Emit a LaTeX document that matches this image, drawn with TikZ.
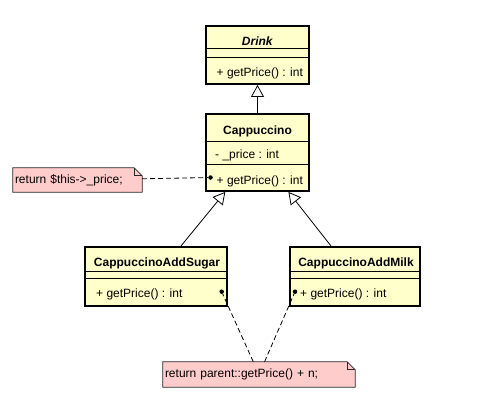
\documentclass[tikz,border=0pt]{standalone}
\usepackage{fontspec}
\setmainfont{Liberation Sans}
\usetikzlibrary{arrows.meta,positioning,calc,backgrounds}
\definecolor{classfill}{RGB}{255,255,204}
\definecolor{notefill}{RGB}{255,204,204}
\tikzset{
    classbox/.style={draw,line width=1.8pt,fill=classfill,inner sep=0pt},
    sepline/.style={line width=1pt},
    notebox/.style={inner xsep=2pt,inner ysep=0pt,align=left},
    noteline/.style={draw=black!85,fill=notefill,line width=0.8pt},
    pindot/.style={circle,fill,inner sep=0pt,minimum size=4.5pt},
    inherit/.style={-{Triangle[open,length=12pt,width=13pt]},line width=0.8pt},
    notelink/.style={dash pattern=on 5pt off 3pt,line width=0.8pt}
}

\begin{document}
\begin{tikzpicture}[x=1pt,y=-1pt,every node/.style={font=\fontsize{12}{14}\selectfont}]
    \useasboundingbox (0,0) rectangle (478,416);
    % classes
    \node[classbox,minimum width=103,minimum height=58] (drink) at (257.5,55) {};
    \node[classbox,minimum width=103,minimum height=77] (cap) at (257.5,152.5) {};
    \node[classbox,minimum width=142,minimum height=59] (sugar) at (156,276.5) {};
    \node[classbox,minimum width=130,minimum height=59] (milk) at (355,276.5) {};
    \draw[sepline] ([yshift=-23pt]drink.north west) -- ([yshift=-23pt]drink.north east);
    \draw[sepline] ([yshift=-32pt]drink.north west) -- ([yshift=-32pt]drink.north east);
    \draw[sepline] ([yshift=-28pt]cap.north west) -- ([yshift=-28pt]cap.north east);
    \draw[sepline] ([yshift=-51pt]cap.north west) -- ([yshift=-51pt]cap.north east);
    \draw[sepline] ([yshift=-25pt]sugar.north west) -- ([yshift=-25pt]sugar.north east);
    \draw[sepline] ([yshift=-32.5pt]sugar.north west) -- ([yshift=-32.5pt]sugar.north east);
    \draw[sepline] ([yshift=-25pt]milk.north west) -- ([yshift=-25pt]milk.north east);
    \draw[sepline] ([yshift=-32.5pt]milk.north west) -- ([yshift=-32.5pt]milk.north east);
    % class texts
    \node[anchor=base] (drinkname) at (257.5,45) {\textbf{\textit{Drink}}};
    \node[anchor=base west,inner sep=0pt] (drinkop) at (216.5,76) {+ getPrice() : int};
    \node[anchor=base] (capname) at (257.5,134) {\textbf{Cappuccino}};
    \node[anchor=base west,inner sep=0pt] (capattr) at (215,158) {- \_price : int};
    \node[anchor=base west,inner sep=0pt] (capop) at (216.5,184) {+ getPrice() : int};
    \node[anchor=base] (sugarname) at (157,266) {\textbf{CappuccinoAddSugar}};
    \node[anchor=base west,inner sep=0pt] (sugarop) at (96,297) {+ getPrice() : int};
    \node[anchor=base] (milkname) at (356,266) {\textbf{CappuccinoAddMilk}};
    \node[anchor=base west,inner sep=0pt] (milkop) at (300,297) {+ getPrice() : int};
    % notes
    \node[notebox,minimum width=129,minimum height=24,text width=125pt] (note1) at (77.5,180) {return \$this->\_price;};
    \node[notebox,minimum width=192,minimum height=25,text width=188pt] (note2) at (259,374.5) {return parent::getPrice() + n;};
    \begin{scope}[on background layer]
        \path[noteline] (note1.north west) -- ([xshift=-8pt]note1.north east) -- ([yshift=-8pt]note1.north east)
            -- (note1.south east) -- (note1.south west) -- cycle;
        \draw[black!85,line width=0.8pt] ([xshift=-8pt]note1.north east) |- ([yshift=-8pt]note1.north east);
        \path[noteline] (note2.north west) -- ([xshift=-8pt]note2.north east) -- ([yshift=-8pt]note2.north east)
            -- (note2.south east) -- (note2.south west) -- cycle;
        \draw[black!85,line width=0.8pt] ([xshift=-8pt]note2.north east) |- ([yshift=-8pt]note2.north east);
    \end{scope}
    % pins
    \node[pindot] (cappin) at (210.5,177.5) {};
    \node[pindot] (sugarpin) at (221.7,291.7) {};
    \node[pindot] (milkpin) at (295,291.7) {};
    % connectors
    \draw[inherit] (cap) -- (drink);
    \draw[inherit] (sugar) -- (cap);
    \draw[inherit] (milk) -- (cap);
    \draw[notelink] (note1) -- (cappin);
    \draw[notelink] (note2) -- (sugarpin);
    \draw[notelink] (note2) -- (milkpin);
\end{tikzpicture}
\end{document}
